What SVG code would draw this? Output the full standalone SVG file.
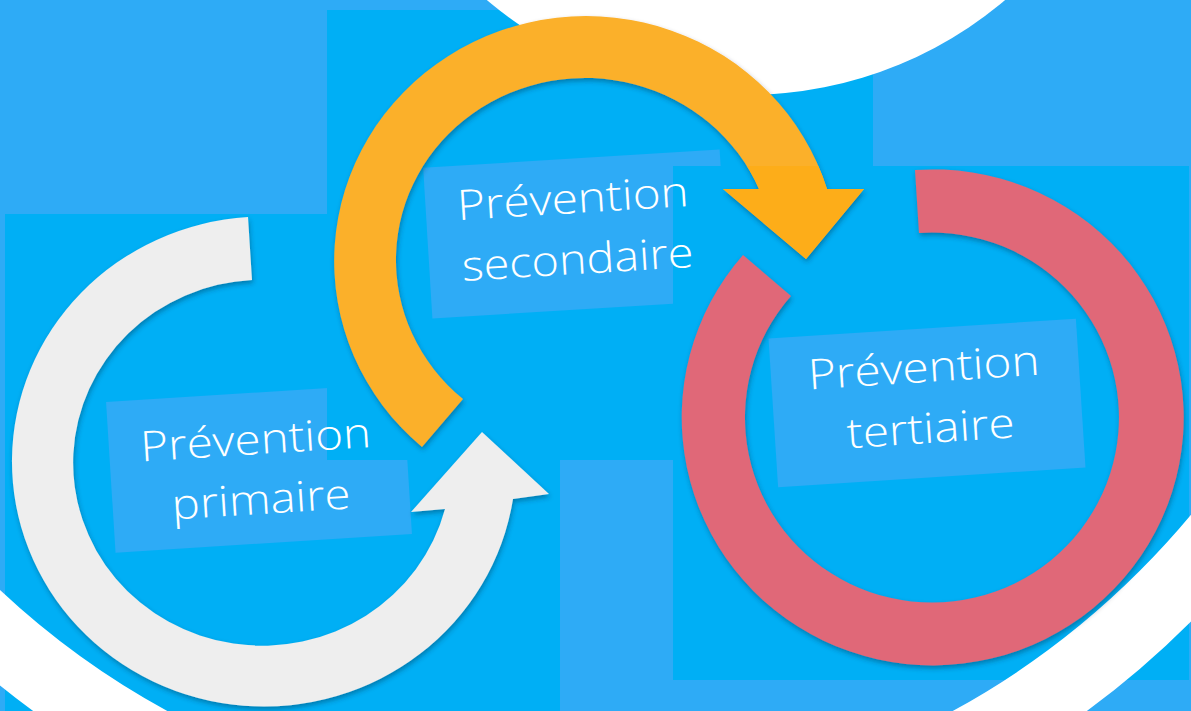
<svg xmlns="http://www.w3.org/2000/svg" width="1191" height="711" viewBox="0 0 1191 711">
  <style>
    .light { fill: #2EABF6; }
    .bright { fill: #00AFF5; }
    .box { fill: #2EABF6; }
    .lbl { font-family: "Open Sans", "Noto Sans", sans-serif; font-weight: 350; font-size: 42px; fill: #FFFFFF; text-anchor: middle; }
    .ring { filter: url(#shadow); }
  </style>
  <defs>
    <filter id="shadow" x="-10%" y="-10%" width="120%" height="120%">
      <feDropShadow dx="1" dy="3" stdDeviation="2.5" flood-color="#00324A" flood-opacity="0.4"/>
    </filter>
    <clipPath id="clipPrimary"><path d="M0,0H327V460H1191V711H0Z"/></clipPath>
    <clipPath id="clipSecondary"><path d="M0,0H1191V166H673V711H0Z"/></clipPath>
    <clipPath id="clipB3"><rect x="673" y="166" width="516" height="514"/></clipPath>
  </defs>

  <g id="background">
    <rect class="light" x="0" y="0" width="1191" height="711"/>
    <rect class="bright" x="5" y="214" width="322" height="497"/>
    <rect class="bright" x="327" y="460" width="233" height="251"/>
    <g clip-path="url(#clipPrimary)">
      <rect class="box" x="-148.5" y="-75.5" width="297" height="151" transform="translate(259,468) rotate(-3.6)"/>
    </g>
    <rect class="bright" x="327" y="10" width="546" height="450"/>
    <g clip-path="url(#clipSecondary)">
      <rect class="box" x="-148.5" y="-75.5" width="297" height="151" transform="translate(576,234) rotate(-3.5)"/>
    </g>
    <rect class="bright" x="673" y="166" width="516" height="514"/>
    <rect class="box" x="-154" y="-74.5" width="308" height="149" transform="translate(927,403) rotate(-3.7)"/>
    <circle cx="746" cy="-306" r="401" fill="#FFFFFF"/>
    <circle cx="560" cy="-9" r="856" fill="none" stroke="#FFFFFF" stroke-width="72"/>
  </g>

  <g id="connectors">
    <path id="arrow-primary" class="ring" fill="#EEEEEE" d="M248,217 A252,245 0 1 0 513,499 L549,494 L482,432 L411,512 L445,509 A189,183 0 1 1 252,280 Z"/>
    <path id="arrow-secondary" class="ring" fill="#FBB02A" d="M422,447 A252,245 0 1 1 827,189 L864,189 L806,259 L723,189 L759,189 A189,182 0 1 0 463,399 Z"/>
    <path fill="#FDAD19" clip-path="url(#clipB3)" d="M422,447 A252,245 0 1 1 827,189 L864,189 L806,259 L723,189 L759,189 A189,182 0 1 0 463,399 Z"/>
    <path id="ring-tertiary" class="ring" fill="#E06878" d="M915,170 A251,248 0 1 1 743,255 L791,296 A187,185 0 1 0 919,233 Z"/>
  </g>

  <g id="node-primary" transform="translate(259,468) rotate(-3.6)">
    <text class="lbl" x="-1.6" y="-14" textLength="231" lengthAdjust="spacingAndGlyphs">Prévention</text>
    <text class="lbl" x="0" y="46" textLength="179" lengthAdjust="spacingAndGlyphs">primaire</text>
  </g>
  <g id="node-secondary" transform="translate(576,234) rotate(-3.5)">
    <text class="lbl" x="-1" y="-21" textLength="232" lengthAdjust="spacingAndGlyphs">Prévention</text>
    <text class="lbl" x="0" y="40" textLength="232" lengthAdjust="spacingAndGlyphs">secondaire</text>
  </g>
  <g id="node-tertiary" transform="translate(927,403) rotate(-3.7)">
    <text class="lbl" x="-1" y="-21" textLength="232" lengthAdjust="spacingAndGlyphs">Prévention</text>
    <text class="lbl" x="2" y="40" textLength="168" lengthAdjust="spacingAndGlyphs">tertiaire</text>
  </g>
</svg>
